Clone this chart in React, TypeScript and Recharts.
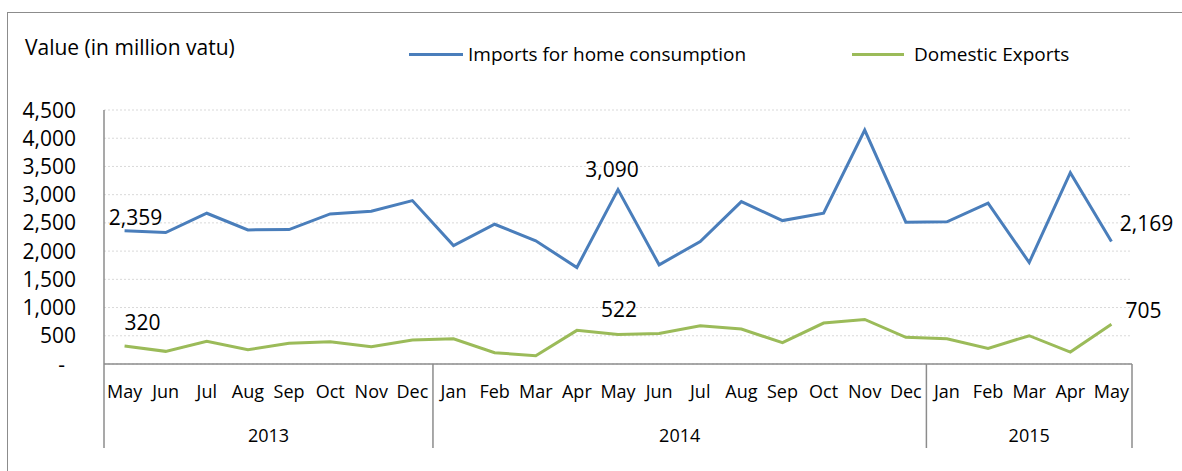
import { CartesianGrid, LabelList, Line, LineChart, XAxis, YAxis } from "recharts";

const months = [
  "May", "Jun", "Jul", "Aug", "Sep", "Oct", "Nov", "Dec",
  "Jan", "Feb", "Mar", "Apr", "May", "Jun", "Jul", "Aug", "Sep", "Oct", "Nov", "Dec",
  "Jan", "Feb", "Mar", "Apr", "May",
];
const yearGroups: [string, number][] = [["2013", 8], ["2014", 12], ["2015", 5]];

const imports = [
  2359, 2329, 2671, 2376, 2382, 2659, 2706, 2895,
  2099, 2476, 2182, 1710, 3090, 1757, 2170, 2877, 2541, 2671, 4145, 2512,
  2518, 2848, 1798, 3390, 2169,
];
const exportsDomestic = [
  320, 224, 401, 254, 366, 395, 307, 425,
  448, 200, 147, 596, 522, 542, 678, 619, 377, 725, 790, 472,
  448, 277, 501, 212, 705,
];
const yTicks = [0, 500, 1000, 1500, 2000, 2500, 3000, 3500, 4000, 4500];
const labelledIdx = [0, 12, 24];

const COLORS = { imports: "#4A7EBB", exports: "#9BBB59", axis: "#8c8c8c", grid: "#d9d9d9" };
const FONT = "'Open Sans', sans-serif";

// chart geometry
const W = 1182;
const H = 471;
const PLOT_LEFT = 104;
const PLOT_RIGHT = 1132;
const STEP = (PLOT_RIGHT - PLOT_LEFT) / months.length;

// label offsets (from the point) per series / index
const labelOffsets: Record<string, Record<number, [number, number]>> = {
  imports: { 0: [11, -6], 12: [-6, -13], 24: [35, -11] },
  exports: { 0: [18, -16], 12: [1, -18], 24: [32, -6] },
};

const yearOf: string[] = [];
const groupStart: Record<number, [string, number]> = {};
yearGroups.forEach(([y, n]) => {
  groupStart[yearOf.length] = [y, n];
  for (let i = 0; i < n; i++) yearOf.push(y);
});

const data = months.map((m, i) => ({
  id: `${m} ${yearOf[i]}`,
  imports: imports[i],
  exports: exportsDomestic[i],
}));

function MonthTick(props: any) {
  const { x, y, payload } = props;
  const index = props.index ?? payload.index;
  const group = groupStart[index];
  const half = STEP / 2;
  return (
    <g>
      <text x={x} y={y + 34} textAnchor="middle" fontFamily={FONT} fontSize={18} fill="#000">
        {months[index]}
      </text>
      {group && (
        <>
          <line x1={x - half} x2={x - half} y1={y} y2={y + 84} stroke={COLORS.axis} strokeWidth={1.5} />
          <text x={x - half + (group[1] * STEP) / 2} y={y + 78} textAnchor="middle" fontFamily={FONT} fontSize={18} fill="#000">
            {group[0]}
          </text>
        </>
      )}
      {index === months.length - 1 && (
        <line x1={x + half} x2={x + half} y1={y} y2={y + 84} stroke={COLORS.axis} strokeWidth={1.5} />
      )}
    </g>
  );
}

function ValueTick(props: any) {
  const { x, y, payload } = props;
  const v = payload.value as number;
  return (
    <text x={v === 0 ? x - 11 : x} y={y + 7.5} textAnchor="end" fontFamily={FONT} fontSize={21} fill="#000">
      {v === 0 ? "-" : v.toLocaleString("en-US")}
    </text>
  );
}

function pointLabel(series: string) {
  return (props: any) => {
    const { x, y, value, index } = props;
    const off = labelOffsets[series][index];
    if (!labelledIdx.includes(index) || !off) return null;
    return (
      <text x={x + off[0]} y={y + off[1]} textAnchor="middle" fontFamily={FONT} fontSize={21} fill="#000">
        {Number(value).toLocaleString("en-US")}
      </text>
    );
  };
}

export default function App() {
  return (
    <div style={{ position: "absolute", left: 0, top: 0, width: W, height: H, background: "#fff", fontFamily: FONT }}>
      <div
        style={{
          position: "absolute", left: 7, top: 12, width: W - 7, height: H - 12,
          borderTop: `1.5px solid ${COLORS.axis}`, borderLeft: `1.5px solid ${COLORS.axis}`,
        }}
      />
      <div style={{ position: "absolute", left: 25, top: 33, fontSize: 21, lineHeight: "29px", color: "#000", whiteSpace: "nowrap" }}>
        Value (in million vatu)
      </div>
      <div style={{ position: "absolute", left: 409, top: 40, display: "flex", alignItems: "center", fontSize: 19, lineHeight: "28px", whiteSpace: "nowrap" }}>
        <span style={{ display: "inline-block", width: 54, height: 3, background: COLORS.imports, marginRight: 5 }} />
        Imports for home consumption
      </div>
      <div style={{ position: "absolute", left: 852, top: 40, display: "flex", alignItems: "center", fontSize: 19, lineHeight: "28px", whiteSpace: "nowrap" }}>
        <span style={{ display: "inline-block", width: 52, height: 3, background: COLORS.exports, marginRight: 10 }} />
        Domestic Exports
      </div>
      <div style={{ position: "absolute", left: 0, top: 0 }}>
        <LineChart width={W} height={H} data={data} margin={{ top: 110, right: W - PLOT_RIGHT, bottom: 7, left: 44 }}>
          <CartesianGrid vertical={false} stroke={COLORS.grid} strokeDasharray="2 2" />
          <XAxis
            dataKey="id"
            height={100}
            interval={0}
            tickSize={0}
            tickMargin={0}
            tickLine={false}
            axisLine={{ stroke: COLORS.axis, strokeWidth: 1.5 }}
            padding={{ left: STEP / 2, right: STEP / 2 }}
            tick={MonthTick}
          />
          <YAxis
            width={60}
            domain={[0, 4500]}
            ticks={yTicks}
            interval={0}
            tickSize={0}
            tickMargin={28}
            tickLine={false}
            axisLine={{ stroke: COLORS.axis, strokeWidth: 1.5 }}
            tick={ValueTick}
          />
          <Line type="linear" dataKey="imports" stroke={COLORS.imports} strokeWidth={3} dot={false} isAnimationActive={false}>
            <LabelList dataKey="imports" content={pointLabel("imports")} />
          </Line>
          <Line type="linear" dataKey="exports" stroke={COLORS.exports} strokeWidth={3} dot={false} isAnimationActive={false}>
            <LabelList dataKey="exports" content={pointLabel("exports")} />
          </Line>
        </LineChart>
      </div>
    </div>
  );
}
